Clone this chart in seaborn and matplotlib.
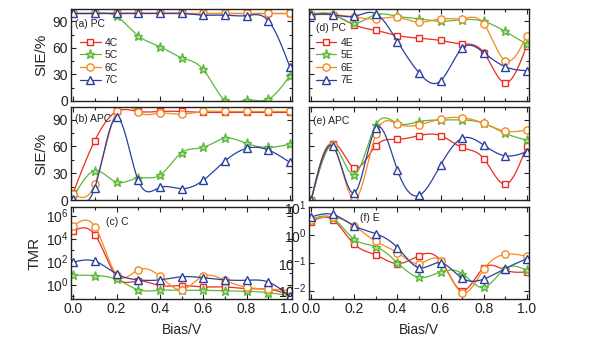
import numpy as np
import matplotlib
matplotlib.use("Agg")
import matplotlib.pyplot as plt
import seaborn as sns
from matplotlib.lines import Line2D
from matplotlib.ticker import MultipleLocator, FixedLocator, LogFormatterMathtext, NullFormatter

# Bias voltage (V)
bias = [0.0, 0.1, 0.2, 0.3, 0.4, 0.5, 0.6, 0.7, 0.8, 0.9, 1.0]

# Spin injection efficiency (%) - C series, parallel configuration
pc_4c = [99, 99, 99, 99, 99, 99, 99, 99, 99, 99, 99]
pc_5c = [99, 99, 95.7, 73.7, 61.5, 49, 35.7, 0.8, 1, 2, 28.5]
pc_6c = [99, 99, 99, 99, 99, 99, 99, 99, 99, 99, 99]
pc_7c = [99, 99, 99, 99, 99, 99, 97, 97, 96.5, 91, 38.7]

# Spin injection efficiency (%) - C series, antiparallel configuration
apc_4c = [8, 66.5, 99, 99, 99, 99, 98, 98, 98, 98, 98]
apc_5c = [3, 32.6, 20, 24.7, 27.7, 52.8, 58.8, 69, 63.3, 58.8, 62.5]
apc_6c = [7, 17.6, 99, 98, 97, 96, 99, 99, 99, 99, 99]
apc_7c = [0.7, 13.9, 92.5, 22, 14, 12.7, 22, 43.5, 57.7, 56, 42]

# Tunnel magnetoresistance - C series
tmr_4c = [4.8e4, 2.2e4, 4.8, 2.1, 0.83, 0.83, 0.63, 0.63, 0.45, 0.40, 0.13]
tmr_5c = [6.6, 6.2, 2.9, 0.36, 0.32, 0.32, 0.32, 0.29, 0.27, 0.20, 0.105]
tmr_6c = [1.2e5, 1.1e5, 7.4, 19, 5.4, 0.36, 5.4, 2.4, 0.60, 0.40, 0.32]
tmr_7c = [91, 110, 8.5, 2.6, 2.6, 4.8, 4.0, 2.6, 2.4, 1.7, 0.093]

# Spin injection efficiency (%) - E series, parallel configuration
pc_4e = [97.6, 97.6, 86, 79.8, 74, 71, 68.4, 64.6, 54.7, 20.5, 62.7]
pc_5e = [98, 98, 88, 97.6, 95.7, 93, 90, 92, 90, 78.6, 64]
pc_6e = [97.6, 97.6, 95, 92.7, 94.6, 89, 93, 93, 87.4, 45.6, 73.7]
pc_7e = [97.6, 97.6, 95.7, 98.7, 67.2, 31.9, 22.8, 59.6, 54.7, 38.7, 34.2]

# Spin injection efficiency (%) - E series, antiparallel configuration
apc_4e = [0, 63, 36, 60.7, 67.8, 72, 72, 58.8, 46.4, 17.6, 60.7]
apc_5e = [0, 61.4, 28.5, 84, 85.8, 87.6, 89.5, 89.5, 85.8, 74.5, 67]
apc_6e = [0, 61.4, 0.4, 73.4, 85, 84, 90.6, 92, 85.8, 77, 78.3]
apc_7e = [0, 60.3, 7.9, 80, 33.3, 5.2, 39, 69, 61.4, 49.4, 54]

# Tunnel magnetoresistance - E series
tmr_4e = [3.0, 3.5, 0.46, 0.19, 0.093, 0.18, 0.12, 0.010, 0.066, 0.054, 0.047]
tmr_5e = [3.5, 4.0, 0.69, 0.38, 0.10, 0.030, 0.047, 0.041, 0.013, 0.062, 0.054]
tmr_6e = [3.5, 4.4, 2.1, 0.58, 0.23, 0.093, 0.12, 0.0083, 0.058, 0.20, 0.17]
tmr_7e = [4.4, 5.4, 2.1, 1.1, 0.35, 0.066, 0.10, 0.028, 0.026, 0.062, 0.14]

labels_c = ["4C", "5C", "6C", "7C"]
labels_e = ["4E", "5E", "6E", "7E"]

sns.set_theme(style="ticks")
plt.rcParams["font.family"] = ["Liberation Sans", "DejaVu Sans"]
plt.rcParams["mathtext.default"] = "regular"

RED, GREEN, ORANGE, BLUE = "#ee2b25", "#5cb83a", "#f7891f", "#2b3f9e"
styles = [
    dict(color=RED, marker="s", mfc="white", ms=4.6),
    dict(color=GREEN, marker="*", mfc="#b5e29a", ms=6.8),
    dict(color=ORANGE, marker="o", mfc="white", ms=5.2),
    dict(color=BLUE, marker="^", mfc="white", ms=5.4),
]


def natural_spline(x, y, n=300):
    """Natural cubic spline through (x, y), evaluated on a dense grid."""
    x = np.asarray(x, float)
    y = np.asarray(y, float)
    m = len(x)
    h = np.diff(x)
    A = np.zeros((m, m))
    b = np.zeros(m)
    A[0, 0] = A[-1, -1] = 1.0
    for i in range(1, m - 1):
        A[i, i - 1] = h[i - 1]
        A[i, i] = 2 * (h[i - 1] + h[i])
        A[i, i + 1] = h[i]
        b[i] = 3 * ((y[i + 1] - y[i]) / h[i] - (y[i] - y[i - 1]) / h[i - 1])
    c = np.linalg.solve(A, b)
    bb = (y[1:] - y[:-1]) / h - h * (2 * c[:-1] + c[1:]) / 3
    d = (c[1:] - c[:-1]) / (3 * h)
    xf = np.linspace(x[0], x[-1], n)
    idx = np.clip(np.searchsorted(x, xf, side="right") - 1, 0, m - 2)
    t = xf - x[idx]
    yf = y[idx] + bb[idx] * t + c[idx] * t ** 2 + d[idx] * t ** 3
    return xf, yf


def draw_series(ax, y, st, log=False):
    yy = np.log10(y) if log else np.asarray(y, float)
    xf, yf = natural_spline(bias, yy)
    if log:
        yf = 10 ** yf
    sns.lineplot(x=xf, y=yf, color=st["color"], lw=0.9, ax=ax,
                 sort=False, estimator=None)
    sns.lineplot(x=bias, y=y, linestyle="", marker=st["marker"],
                 markersize=st["ms"], markerfacecolor=st["mfc"],
                 markeredgecolor=st["color"], markeredgewidth=1.0,
                 color=st["color"], ax=ax, sort=False, estimator=None)


def style_axes(ax):
    ax.set_xlim(-0.01, 1.01)
    ax.xaxis.set_major_locator(MultipleLocator(0.2))
    ax.xaxis.set_minor_locator(MultipleLocator(0.1))
    ax.tick_params(which="both", direction="in", top=True, right=True,
                   width=0.8, labelsize=10, pad=2, colors="#222222")
    ax.tick_params(which="major", length=3.5)
    ax.tick_params(which="minor", length=2.5)
    for sp in ax.spines.values():
        sp.set_linewidth(1.0)
        sp.set_color("#222222")
    ax.set_xlabel("")
    ax.set_ylabel("")


fig = plt.figure(figsize=(6.12, 3.45), dpi=100)
W, H = 612, 345
lefts = [71, 309]
widths = [221, 220]
rows = [(9, 101), (107, 200), (207, 299)]
axes = {}
for ci, lx in enumerate(lefts):
    for ri, (top, bot) in enumerate(rows):
        axes[(ri, ci)] = fig.add_axes([lx / W, 1 - bot / H, widths[ci] / W, (bot - top) / H])

panels = [
    ((0, 0), [pc_4c, pc_5c, pc_6c, pc_7c], False, "(a) PC", (0.02, 0.84)),
    ((1, 0), [apc_4c, apc_5c, apc_6c, apc_7c], False, "(b) APC", (0.02, 0.87)),
    ((2, 0), [tmr_4c, tmr_5c, tmr_6c, tmr_7c], True, "(c) C", (0.16, 0.84)),
    ((0, 1), [pc_4e, pc_5e, pc_6e, pc_7e], False, "(d) PC", (0.03, 0.79)),
    ((1, 1), [apc_4e, apc_5e, apc_6e, apc_7e], False, "(e) APC", (0.02, 0.85)),
    ((2, 1), [tmr_4e, tmr_5e, tmr_6e, tmr_7e], True, "(f) E", (0.23, 0.88)),
]

for key, series, log, tag, pos in panels:
    ax = axes[key]
    for y, st in zip(series, styles):
        draw_series(ax, y, st, log=log)
    if log:
        ax.set_yscale("log")
    style_axes(ax)
    ax.text(pos[0], pos[1], tag, transform=ax.transAxes, fontsize=7.5,
            va="center", ha="left", color="#222222")

# SIE axes
for key in [(0, 0), (1, 0), (0, 1), (1, 1)]:
    ax = axes[key]
    ax.set_ylim(0, 104)
    ax.yaxis.set_major_locator(MultipleLocator(30))
    ax.yaxis.set_minor_locator(MultipleLocator(15))

# TMR axes
axc = axes[(2, 0)]
axc.set_ylim(10 ** -1.25, 10 ** 6.75)
axc.yaxis.set_major_locator(FixedLocator([1e0, 1e2, 1e4, 1e6]))
axc.yaxis.set_minor_locator(FixedLocator([1e-1, 1e1, 1e3, 1e5]))
axc.yaxis.set_major_formatter(LogFormatterMathtext())
axc.yaxis.set_minor_formatter(NullFormatter())

axf = axes[(2, 1)]
axf.set_ylim(10 ** -2.3, 10 ** 1.0)
axf.yaxis.set_major_locator(FixedLocator([1e-2, 1e-1, 1e0, 1e1]))
axf.yaxis.set_minor_locator(FixedLocator([]))
axf.yaxis.set_major_formatter(LogFormatterMathtext())
axf.yaxis.set_minor_formatter(NullFormatter())

# Tick labels only on the outer edges, except the log scale of (f)
for key, ax in axes.items():
    if key[0] != 2:
        ax.tick_params(labelbottom=False)
    if key[1] == 1 and key[0] != 2:
        ax.tick_params(labelleft=False)

axes[(0, 0)].set_ylabel("SIE/%", fontsize=11, labelpad=3)
axes[(1, 0)].set_ylabel("SIE/%", fontsize=11, labelpad=3)
axes[(2, 0)].set_ylabel("TMR", fontsize=11, labelpad=3)
axes[(2, 0)].set_xlabel("Bias/V", fontsize=10, labelpad=5)
axes[(2, 1)].set_xlabel("Bias/V", fontsize=10, labelpad=5)


def legend_handles(lbls):
    return [Line2D([], [], color=st["color"], lw=0.9, marker=st["marker"],
                   markersize=st["ms"], markerfacecolor=st["mfc"],
                   markeredgecolor=st["color"], markeredgewidth=1.0, label=l)
            for st, l in zip(styles, lbls)]


for key, lbls, anchor in [((0, 0), labels_c, (0.04, 0.69)), ((0, 1), labels_e, (0.03, 0.69))]:
    axes[key].legend(handles=legend_handles(lbls), loc="upper left",
                     bbox_to_anchor=anchor, frameon=False, fontsize=7.5,
                     handlelength=2.0, handletextpad=0.4, labelspacing=0.25,
                     borderaxespad=0, borderpad=0)

fig.savefig("out.png", dpi=100, facecolor="white")
